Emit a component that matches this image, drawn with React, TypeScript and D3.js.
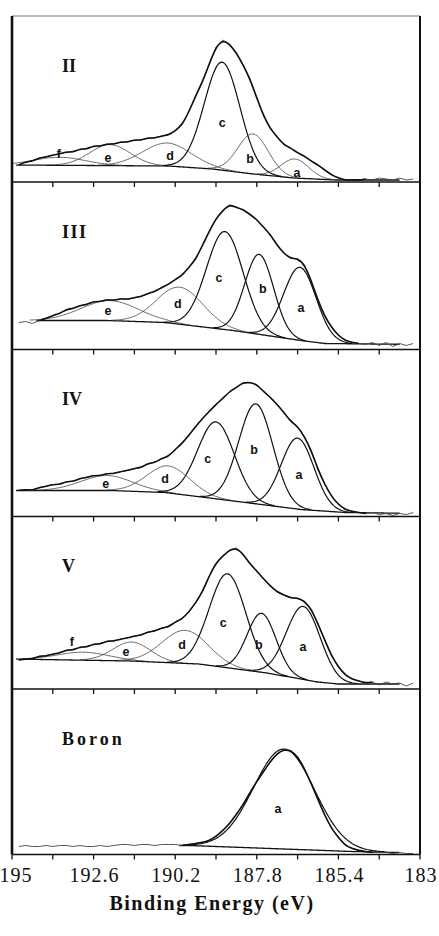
import React from "react";
import * as d3 from "d3";

// ---------- data ----------
const energies = [194.8, 194.6, 194.4, 194.2, 194.0, 193.8, 193.6, 193.4, 193.2, 193.0, 192.8, 192.6, 192.4, 192.2, 192.0, 191.8, 191.6, 191.4, 191.2, 191.0, 190.8, 190.6, 190.4, 190.2, 190.0, 189.8, 189.6, 189.4, 189.2, 189.0, 188.8, 188.6, 188.4, 188.2, 188.0, 187.8, 187.6, 187.4, 187.2, 187.0, 186.8, 186.6, 186.4, 186.2, 186.0, 185.8, 185.6, 185.4, 185.2, 185.0, 184.8, 184.6, 184.4, 184.2, 184.0, 183.8, 183.6, 183.4, 183.2];

const panelNames = ["II", "III", "IV", "V", "Boron"];

const countsII = [17, 20, 21, 24, 25, 27, 28, 30, 30, 33, 33, 36, 36, 38, 38, 40, 40, 42, 42, 44, 44, 46, 47, 51, 57, 70, 86, 100, 118, 135, 142, 138, 129, 117, 103, 84, 66, 53, 45, 37, 34, 29, 26, 21, 17, 12, 7, 4, 2, 2, 2, 3, 2, 4, 3, 2, 4, 2, 3];
const countsIII = [27, 28, 26, 29, 31, 34, 36, 40, 41, 44, 45, 48, 48, 50, 49, 51, 50, 52, 53, 56, 58, 62, 65, 70, 74, 82, 90, 104, 118, 131, 139, 145, 142, 140, 135, 130, 122, 115, 104, 96, 91, 91, 85, 69, 49, 33, 22, 14, 9, 7, 6, 5, 7, 4, 7, 3, 6, 4, 6];
const countsIV = [26, 27, 26, 29, 30, 32, 32, 35, 35, 38, 39, 41, 41, 43, 43, 45, 46, 48, 49, 53, 54, 58, 60, 67, 73, 81, 90, 98, 105, 112, 118, 125, 129, 134, 134, 132, 125, 119, 112, 104, 95, 90, 80, 66, 47, 32, 20, 12, 7, 5, 4, 3, 4, 2, 3, 1, 3, 2, 4];
const countsV = [29, 30, 30, 33, 33, 35, 36, 39, 39, 42, 42, 45, 45, 48, 48, 50, 51, 53, 54, 57, 58, 61, 62, 67, 70, 77, 86, 97, 113, 126, 133, 139, 141, 135, 125, 118, 110, 103, 97, 94, 91, 91, 88, 80, 65, 49, 33, 22, 14, 10, 8, 6, 7, 4, 7, 5, 6, 3, 6];
const countsBoron = [8, 9, 8, 8, 9, 8, 9, 9, 8, 9, 8, 8, 9, 8, 9, 10, 10, 9, 10, 10, 9, 10, 10, 10, 9, 10, 11, 12, 14, 18, 24, 31, 40, 50, 62, 73, 83, 93, 101, 105, 104, 98, 86, 71, 55, 39, 26, 17, 9, 6, 4, 3, 2, 2, 2, 1, 2, 1, 1];

// Shirley-type backgrounds (energy, counts)
const bgEnergyII = [195, 190.4, 189.1, 187.9, 186.7, 185.5, 183];
const bgCountsII = [17, 16, 13, 8, 4, 2, 2];
const bgEnergyIII = [195, 192.2, 190.5, 188.5, 186.5, 185.8, 183];
const bgCountsIII = [29, 29, 27, 19, 9, 6, 5];
const bgEnergyIV = [195, 192.1, 190.5, 188.6, 186.5, 185.2, 183];
const bgCountsIV = [26, 26, 24, 16, 7, 4, 3];
const bgEnergyV = [195, 191.5, 189.5, 187.5, 186, 185.4, 183];
const bgCountsV = [30, 28, 25, 16, 7, 5, 5];
const bgEnergyBoron = [195, 189.8, 185, 183];
const bgCountsBoron = [9, 9, 3, 1.5];

// fitted components
const peakNamesII = ["f", "e", "d", "c", "b", "a"];
const peakCentersII = [193.6, 192.12, 190.44, 188.82, 187.91, 186.68];
const peakHeightsII = [8, 21, 23, 108, 40, 19];
const peakFwhmII = [1.8, 1.4, 1.7, 1.23, 1.05, 0.95];

const peakNamesIII = ["e", "d", "c", "b", "a"];
const peakCentersIII = [192.12, 190.06, 188.74, 187.73, 186.53];
const peakHeightsIII = [20, 37, 98, 80, 73];
const peakFwhmIII = [2.0, 1.6, 1.27, 1.0, 1.13];

const peakNamesIV = ["e", "d", "c", "b", "a"];
const peakCentersIV = [192.21, 190.4, 189.0, 187.83, 186.6];
const peakHeightsIV = [15, 27, 77, 100, 71];
const peakFwhmIV = [1.8, 1.5, 1.27, 1.18, 1.13];

const peakNamesV = ["f", "e", "d", "c", "b", "a"];
const peakCentersV = [192.9, 191.48, 189.91, 188.66, 187.66, 186.43];
const peakHeightsV = [8, 19, 33, 94, 59, 73];
const peakFwhmV = [1.8, 1.3, 1.6, 1.27, 1.0, 1.18];

const peakNamesBoron = ["a"];
const peakCentersBoron = [187.0];
const peakHeightsBoron = [100];
const peakFwhmBoron = [2.1];

// component label positions (energy, counts)
const labelEnergyII = [193.62, 192.18, 190.35, 188.82, 188.0, 186.62];
const labelCountsII = [28, 24, 26, 59, 23, 9];
const labelEnergyIII = [192.18, 190.12, 188.91, 187.62, 186.5];
const labelCountsIII = [39, 46, 72, 61, 42];
const labelEnergyIV = [192.24, 190.5, 189.24, 187.88, 186.56];
const labelCountsIV = [33, 38, 58, 67, 42];
const labelEnergyV = [193.24, 191.65, 190.0, 188.79, 187.74, 186.44];
const labelCountsV = [47, 37, 44, 66, 44, 42];
const labelEnergyBoron = [187.18];
const labelCountsBoron = [46];

// energy range covered by the fitted envelope
const envelopeRangeII = [194.8, 184.6];
const envelopeRangeIII = [194.2, 184.8];
const envelopeRangeIV = [194.8, 184.6];
const envelopeRangeV = [194.8, 184.4];
const envelopeRangeBoron = [190.0, 184.4];

const tickValues = [195, 193.8, 192.6, 191.4, 190.2, 189, 187.8, 186.6, 185.4, 184.2, 183];
const tickLabels = [195, 192.6, 190.2, 187.8, 185.4, 183];
const xAxisTitle = "Binding Energy (eV)";

// ---------- layout ----------
const W = 439;
const H = 936;
const LEFT = 12;
const RIGHT = 420;
const EDGES = [16, 182, 349.5, 516.5, 689, 854.5];

const panels = [
  { name: panelNames[0], counts: countsII, bgE: bgEnergyII, bgC: bgCountsII, names: peakNamesII, centers: peakCentersII, heights: peakHeightsII, fwhm: peakFwhmII, lE: labelEnergyII, lC: labelCountsII, env: envelopeRangeII },
  { name: panelNames[1], counts: countsIII, bgE: bgEnergyIII, bgC: bgCountsIII, names: peakNamesIII, centers: peakCentersIII, heights: peakHeightsIII, fwhm: peakFwhmIII, lE: labelEnergyIII, lC: labelCountsIII, env: envelopeRangeIII },
  { name: panelNames[2], counts: countsIV, bgE: bgEnergyIV, bgC: bgCountsIV, names: peakNamesIV, centers: peakCentersIV, heights: peakHeightsIV, fwhm: peakFwhmIV, lE: labelEnergyIV, lC: labelCountsIV, env: envelopeRangeIV },
  { name: panelNames[3], counts: countsV, bgE: bgEnergyV, bgC: bgCountsV, names: peakNamesV, centers: peakCentersV, heights: peakHeightsV, fwhm: peakFwhmV, lE: labelEnergyV, lC: labelCountsV, env: envelopeRangeV },
  { name: panelNames[4], counts: countsBoron, bgE: bgEnergyBoron, bgC: bgCountsBoron, names: peakNamesBoron, centers: peakCentersBoron, heights: peakHeightsBoron, fwhm: peakFwhmBoron, lE: labelEnergyBoron, lC: labelCountsBoron, env: envelopeRangeBoron },
];

const x = d3.scaleLinear().domain([195, 183]).range([LEFT, RIGHT]);
const sampleE = d3.range(195, 182.99, -0.04);

function Panel({ p, i }: { p: any; i: number }) {
  const top = EDGES[i];
  const bottom = EDGES[i + 1];
  const y = d3.scaleLinear().domain([0, 100]).range([bottom, bottom - 100]);
  const bg = d3.scaleLinear().domain(p.bgE).range(p.bgC).clamp(true);
  const pts = energies.map((e: number, k: number) => [e, p.counts[k]] as [number, number]);
  const dataLine = d3.line<[number, number]>().x((d) => x(d[0])).y((d) => y(d[1]));
  const envLine = d3
    .line<[number, number]>()
    .x((d) => x(d[0]))
    .y((d) => y(d[1]))
    .curve(d3.curveBasis);
  const envPts = pts.filter((d) => d[0] <= p.env[0] + 1e-6 && d[0] >= p.env[1] - 1e-6);
  const bgPath = d3
    .line<number>()
    .x((e) => x(e))
    .y((e) => y(bg(e)))(sampleE.filter((e) => e <= p.env[0] + 0.1 && e >= 183.6));

  const comps = p.centers.map((c: number, k: number) => {
    const h = p.heights[k];
    const w = p.fwhm[k];
    const g = (e: number) => h * Math.exp((-4 * Math.LN2 * (e - c) * (e - c)) / (w * w));
    const line = d3
      .line<number>()
      .defined((e) => g(e) > 0.4)
      .x((e) => x(e))
      .y((e) => y(bg(e) + g(e)));
    return { d: line(sampleE), major: h > 45 };
  });

  return (
    <g>
      <path d={bgPath || ""} fill="none" stroke="#111" strokeWidth={1.3} />
      {comps.map((c: any, k: number) => (
        <path key={k} d={c.d || ""} fill="none" stroke={c.major ? "#111" : "#444"} strokeWidth={c.major ? 1.2 : 0.8} />
      ))}
      <path d={dataLine(pts) || ""} fill="none" stroke="#444" strokeWidth={0.9} />
      <path d={envLine(envPts) || ""} fill="none" stroke="#111" strokeWidth={1.6} />
      {p.names.map((n: string, k: number) => (
        <text
          key={n}
          x={x(p.lE[k])}
          y={y(p.lC[k])}
          textAnchor="middle"
          dominantBaseline="central"
          fontFamily="Liberation Sans, Arial, sans-serif"
          fontWeight="bold"
          fontSize={12.5}
          fill="#111"
        >
          {n}
        </text>
      ))}
      <text
        x={62}
        y={top + 55.5}
        fontFamily="Liberation Serif, Times New Roman, serif"
        fontWeight="bold"
        fontSize={18}
        letterSpacing={p.name === "Boron" ? 3 : p.name === "III" ? 1.5 : 0}
        fill="#111"
      >
        {p.name}
      </text>
    </g>
  );
}

export default function App() {
  return (
    <svg
      width={W}
      height={H}
      viewBox={`0 0 ${W} ${H}`}
      style={{ position: "absolute", left: 0, top: 0, background: "#fff" }}
    >
      <rect x={0} y={0} width={W} height={H} fill="#fff" />
      {panels.map((p, i) => (
        <Panel key={p.name} p={p} i={i} />
      ))}
      {/* frame */}
      <line x1={LEFT} x2={RIGHT} y1={EDGES[0]} y2={EDGES[0]} stroke="#777" strokeWidth={1} />
      {EDGES.slice(1).map((e, i) => (
        <line key={i} x1={LEFT} x2={RIGHT} y1={e} y2={e} stroke="#111" strokeWidth={1.6} />
      ))}
      <line x1={LEFT} x2={LEFT} y1={EDGES[0]} y2={EDGES[5]} stroke="#111" strokeWidth={2.6} />
      <line x1={RIGHT} x2={RIGHT} y1={EDGES[0]} y2={EDGES[5]} stroke="#111" strokeWidth={2} />
      {/* ticks */}
      {EDGES.slice(1).map((e, i) =>
        tickValues.map((t) => (
          <line key={`${i}-${t}`} x1={x(t)} x2={x(t)} y1={e} y2={e + 5} stroke="#111" strokeWidth={1.3} />
        ))
      )}
      {tickLabels.map((t, k) => (
        <text
          key={t}
          x={k === 0 ? x(t) + 4 : k === tickLabels.length - 1 ? x(t) + 1 : x(t) + 1}
          y={882}
          textAnchor="middle"
          fontFamily="Liberation Serif, Times New Roman, serif"
          fontSize={20}
          letterSpacing={1}
          fill="#111"
        >
          {t}
        </text>
      ))}
      <text
        x={212}
        y={910}
        textAnchor="middle"
        fontFamily="Liberation Serif, Times New Roman, serif"
        fontWeight="bold"
        fontSize={20}
        letterSpacing={1.5}
        fill="#111"
      >
        {xAxisTitle}
      </text>
    </svg>
  );
}
